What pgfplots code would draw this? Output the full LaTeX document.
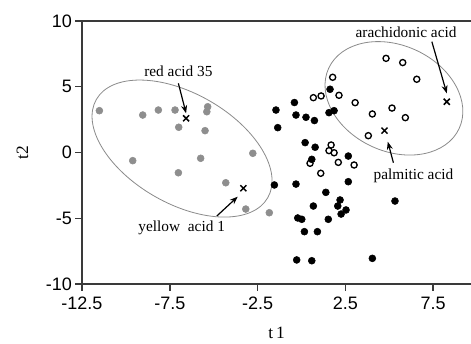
\documentclass[border=0pt]{standalone}
\usepackage{pgfplots}
\pgfplotsset{compat=1.18}
\usepackage{pgfplotstable}
\usepackage{fontspec}
\setmainfont{Liberation Serif}
\newfontfamily\tickfont{Liberation Sans}
\usetikzlibrary{arrows.meta}
\definecolor{dotgray}{HTML}{8E8E8E}
\definecolor{axisgray}{HTML}{3A3A3A}
\definecolor{ellgray}{HTML}{8A8A8A}

\pgfplotstableread{
x y
-11.51 3.18
-9.04 2.85
-8.15 3.23
-7.20 3.23
-5.34 3.48
-5.39 3.10
-6.99 1.92
-5.49 1.66
-2.77 -0.06
-9.61 -0.62
-5.74 -0.44
-7.01 -1.54
-4.31 -2.30
-3.17 -4.30
-1.83 -4.58
}\graydata

\pgfplotstableread{
x y
1.63 4.81
-0.40 3.80
-1.45 3.23
-0.31 2.85
0.26 2.68
0.74 2.43
1.57 3.03
1.86 3.18
-1.35 1.89
0.21 0.75
0.78 0.40
0.59 -0.52
2.67 -0.27
-1.54 -2.47
-0.31 -2.40
2.67 -2.22
1.39 -3.03
2.20 -3.61
2.07 -4.07
0.68 -4.07
-0.21 -4.98
0.02 -5.08
1.53 -5.08
2.54 -4.37
2.26 -4.68
0.17 -6.02
0.91 -6.02
-0.27 -8.17
0.59 -8.23
4.04 -8.05
5.33 -3.69
}\blackdata

\pgfplotstableread{
x y
1.78 5.72
0.68 4.17
1.12 4.30
2.14 4.35
3.06 3.79
4.04 2.93
3.81 1.28
4.82 7.16
5.77 6.84
6.57 5.57
5.16 3.38
5.92 2.65
1.69 0.57
1.57 0.14
1.86 -0.02
0.49 -0.82
2.10 -0.75
3.00 -0.95
1.10 -1.58
}\opendata

\pgfplotstableread{
x y
-6.57 2.60
-3.31 -2.72
8.28 3.86
4.73 1.66
}\crossdata

\begin{document}
\begin{tikzpicture}
\useasboundingbox (-61.5pt,-44.25pt) rectangle (291.75pt,213pt);
\begin{axis}[
  at={(0,0)}, anchor=south west,
  scale only axis,
  width=291.75pt, height=197.25pt,
  xmin=-12.5, xmax=9.66,
  ymin=-10, ymax=10,
  axis x line*=box,
  axis y line*=left,
  xtick pos=left, ytick pos=left,
  axis line style={axisgray, line width=1.1pt},
  tick style={axisgray, line width=1.1pt},
  tick align=outside,
  major tick length=5pt,
  xtick={-12.5,-7.5,-2.5,2.5,7.5},
  xticklabels={-12.5,-7.5,-2.5,2.5,7.5},
  ytick={-10,-5,0,5,10},
  yticklabels={-10,-5,0,5,10},
  ticklabel style={font=\tickfont\fontsize{13.5}{16}\selectfont, text=black},
  xticklabel style={yshift=-1pt},
  yticklabel style={xshift=1pt},
  xlabel={t\,1},
  ylabel={t2},
  xlabel style={font=\fontsize{13}{15}\selectfont, at={(rel axis cs:0.5,0)}, anchor=center, yshift=-36.5pt},
  ylabel style={font=\fontsize{13}{15}\selectfont, at={(rel axis cs:0,0.5)}, anchor=center, yshift=44.6pt},
  clip=false,
]
\draw[ellgray, line width=0.6pt, rotate around={-29.8:(axis cs:-6.80,0.30)}] (axis cs:-6.80,0.30) ellipse [x radius=74.1pt, y radius=41.3pt];
\draw[ellgray, line width=0.6pt, rotate around={-24.8:(axis cs:5.27,4.12)}] (axis cs:5.27,4.12) ellipse [x radius=53.9pt, y radius=39.7pt];

\addplot[only marks, mark=*, mark size=2.6pt, mark options={fill=dotgray, draw=dotgray}] table {\graydata};
\addplot[only marks, mark=*, mark size=2.6pt, mark options={fill=black, draw=black}] table {\blackdata};
\addplot[only marks, mark=o, mark size=2.3pt, mark options={draw=black, line width=1pt}] table {\opendata};
\addplot[only marks, mark=x, mark size=3.2pt, mark options={draw=black, line width=1.1pt}] table {\crossdata};

\draw[-{Stealth[length=6pt,width=4.5pt]}, line width=0.9pt] (axis cs:-7.01,5.26) -- (axis cs:-6.57,2.98);
\draw[-{Stealth[length=6pt,width=4.5pt]}, line width=0.9pt] (axis cs:-4.82,-4.83) -- (axis cs:-3.63,-3.36);
\draw[-{Stealth[length=6pt,width=4.5pt]}, line width=0.9pt] (axis cs:7.43,8.43) -- (axis cs:8.28,4.50);
\draw[-{Stealth[length=6pt,width=4.5pt]}, line width=0.9pt] (axis cs:5.24,-0.78) -- (axis cs:4.92,0.82);

\node[font=\fontsize{11.5}{13}\selectfont, inner sep=0pt] at (axis cs:-7.01,6.20) {red acid 35};
\node[font=\fontsize{11.5}{13}\selectfont, inner sep=0pt] at (axis cs:-6.82,-5.76) {yellow\ \ acid 1};
\node[font=\fontsize{11.5}{13}\selectfont, inner sep=0pt] at (axis cs:5.96,9.14) {arachidonic acid};
\node[font=\fontsize{11.5}{13}\selectfont, inner sep=0pt] at (axis cs:6.38,-1.79) {palmitic acid};
\end{axis}
\end{tikzpicture}
\end{document}
